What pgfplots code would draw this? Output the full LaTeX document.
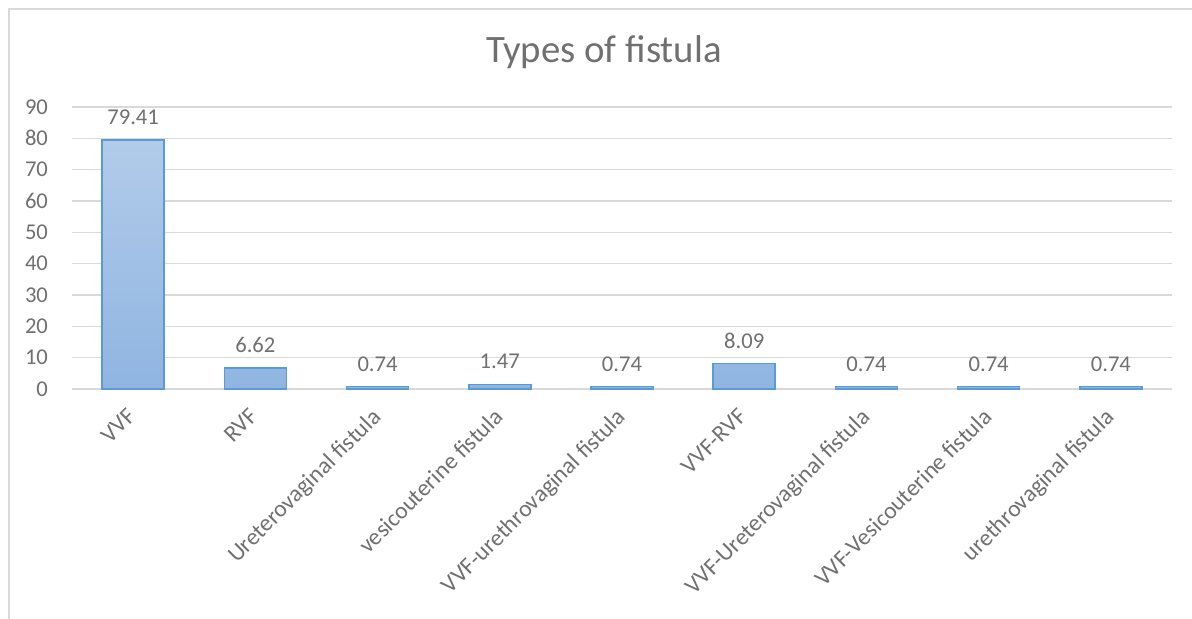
\documentclass[border=0pt]{standalone}
\usepackage{pgfplots}
\pgfplotsset{compat=1.18}
\usepackage{fontspec}
\setmainfont{Carlito}
\definecolor{txt}{HTML}{707070}
\definecolor{gridc}{HTML}{D9D9D9}
\definecolor{barline}{HTML}{5B9BD5}
\definecolor{bartop}{RGB}{178,203,234}
\definecolor{barbot}{RGB}{143,181,225}
\begin{document}
\begin{tikzpicture}
\begin{axis}[
    at={(36pt,115pt)}, anchor=south west,
    scale only axis,
    width=550pt, height=141pt,
    ymin=0, ymax=90,
    ytick={0,10,...,90},
    xmin=-0.5, xmax=8.5,
    xtick={0,...,8},
    xticklabels={VVF, RVF, Ureterovaginal fistula, vesicouterine fistula,
        VVF-urethrovaginal fistula, VVF-RVF, VVF-Ureterovaginal fistula,
        VVF-Vesicouterine fistula, urethrovaginal fistula},
    /pgf/number format/assume math mode=true,
    axis line style={draw=none},
    major tick length=0pt,
    ymajorgrids,
    major grid style={gridc, line width=0.6pt},
    yticklabel style={font=\fontsize{11.3}{13}\selectfont, text=txt, anchor=east, xshift=-8.5pt},
    xticklabel style={font=\fontsize{11.8}{14}\selectfont, text=txt, rotate=45, anchor=north east, inner sep=0pt, xshift=-8.6pt, yshift=-3.7pt},
    clip=false,
]
\addplot[ybar, bar width=31pt, draw=barline, line width=0.8pt,
    top color=bartop, bottom color=barbot,
    nodes near coords={\pgfmathprintnumber[fixed,precision=2,fixed zerofill]{\pgfplotspointmeta}},
    every node near coord/.append style={font=\fontsize{11.3}{13}\selectfont, text=txt, yshift=4pt}]
coordinates {
    (0, 79.41)
    (1, 6.62)
    (2, 0.74)
    (3, 1.47)
    (4, 0.74)
    (5, 8.09)
    (6, 0.74)
    (7, 0.74)
    (8, 0.74)
};
\end{axis}
\node[anchor=base, text=txt, font=\fontsize{19.4}{23}\selectfont] at (302pt,278pt) {Types of fistula};
\draw[gridc, line width=0.8pt] (4.5pt,0pt) -- (4.5pt,305pt) -- (596pt,305pt);
\pgfresetboundingbox
\path[use as bounding box] (0,0) rectangle (596pt,309.5pt);
\end{tikzpicture}
\end{document}
